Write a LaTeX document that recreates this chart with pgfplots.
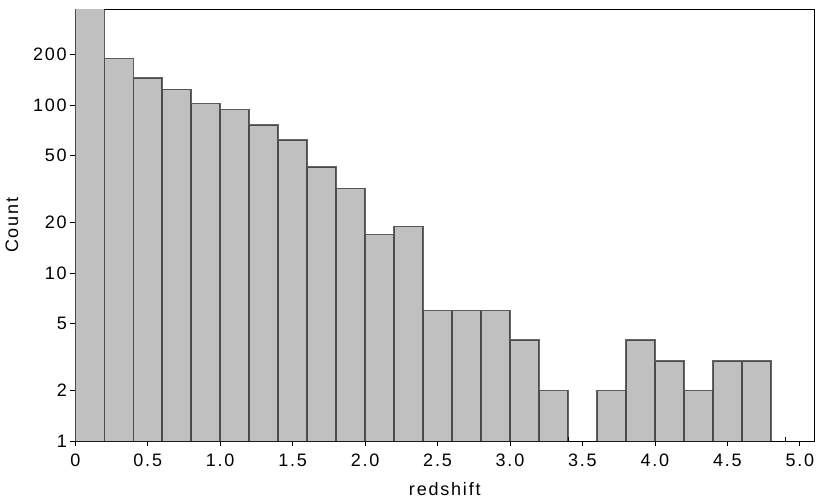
\documentclass[border=0pt]{standalone}
\usepackage{fontspec}
\setmainfont[LetterSpace=10]{Liberation Sans}
\usepackage{pgfplots}
\pgfplotsset{compat=1.18}
\definecolor{barfill}{RGB}{192,192,192}
\begin{document}
\begin{tikzpicture}
\begin{axis}[
  name=ax,
  scale only axis,
  width=739pt, height=432pt,
  xmin=0, xmax=5.1,
  ymode=log, ymin=1, ymax=372,
  xtick={0,0.5,1,1.5,2,2.5,3,3.5,4,4.5,5},
  xticklabels={0,0.5,1.0,1.5,2.0,2.5,3.0,3.5,4.0,4.5,5.0},
  minor xtick={0.1,0.2,0.3,0.4,0.6,0.7,0.8,0.9,1.1,1.2,1.3,1.4,1.6,1.7,1.8,1.9,2.1,2.2,2.3,2.4,2.6,2.7,2.8,2.9,3.1,3.2,3.3,3.4,3.6,3.7,3.8,3.9,4.1,4.2,4.3,4.4,4.6,4.7,4.8,4.9,5.1},
  ytick={1,2,5,10,20,50,100,200},
  yticklabels={1,2,5,10,20,50,100,200},
  minor ytick={1.2,1.4,1.6,1.8,3,4,6,7,8,9,12,14,16,18,30,40,60,70,80,90,120,140,160,180,300},
  xtick pos=bottom, ytick pos=left,
  tick align=inside,
  major tick length=-5pt,
  minor tick length=4pt,
  tick style={black, line width=0.8pt},
  axis line style={black, line width=1pt},
  tick label style={font=\fontsize{18}{20}\selectfont},
  xticklabel style={yshift=-9pt},
  yticklabel style={xshift=-5pt},
  label style={font=\fontsize{18}{20}\selectfont},
  xlabel style={yshift=-9pt},
  ylabel style={yshift=8pt},
  /pgf/number format/assume math mode=true,
  xlabel={redshift},
  ylabel={Count},
]
\addplot[ybar interval, fill=barfill, draw=black, draw opacity=0.6, line width=1.5pt]
  coordinates {(0,500) (0.2,189) (0.4,145) (0.6,124) (0.8,102) (1.0,94) (1.2,76)
  (1.4,62) (1.6,43) (1.8,32) (2.0,17) (2.2,19) (2.4,6) (2.6,6) (2.8,6) (3.0,4)
  (3.2,2) (3.4,2)};
\addplot[ybar interval, fill=barfill, draw=black, draw opacity=0.6, line width=1.5pt]
  coordinates {(3.6,2) (3.8,4) (4.0,3) (4.2,2) (4.4,3) (4.6,3) (4.8,3)};
\end{axis}
\path ([shift={(-75.3pt,-57pt)}]ax.south west) rectangle ([shift={(15.7pt,9.3pt)}]ax.north east);
\end{tikzpicture}
\end{document}
